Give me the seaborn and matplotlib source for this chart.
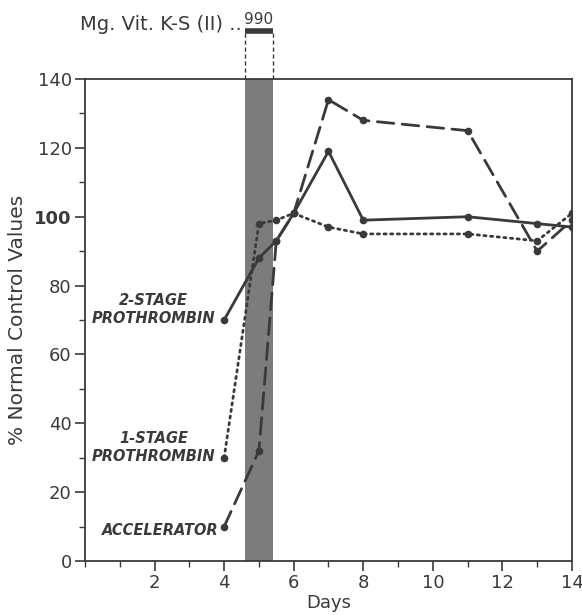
import numpy as np
import pandas as pd
import seaborn as sns
import matplotlib.pyplot as plt
from matplotlib.ticker import MultipleLocator
import matplotlib.transforms as mtransforms

sns.set_style("ticks")
plt.rcParams['font.family'] = ['DejaVu Sans']

ink = '#3a3a3a'

# data
days = [4, 5, 5.5, 6, 7, 8, 11, 13, 14]
two_stage = [70, 88, 93, 101, 119, 99, 100, 98, 97]
one_stage = [30, 98, 99, 101, 97, 95, 95, 93, 101]
accelerator = [10, 32, 93, 101, 134, 128, 125, 90, 99]
series_names = ["2-STAGE\nPROTHROMBIN", "1-STAGE\nPROTHROMBIN", "ACCELERATOR"]
dose_start, dose_end = 4.6, 5.4
dose_label = "Mg. Vit. K-S (II) .."
dose_amount = "990"

rows = []
for name, vals in zip(series_names, [two_stage, one_stage, accelerator]):
    for d, v in zip(days, vals):
        rows.append([name, d, v])
df = pd.DataFrame(rows, columns=["Series", "Days", "Value"])

fig = plt.figure(figsize=(5.82, 6.15), dpi=100)
ax = fig.add_axes([0.1460, 0.0878, 0.8368, 0.7837])

ax.axvspan(dose_start, dose_end, color='#7c7c7c', lw=0, zorder=0)

sns.lineplot(data=df, x="Days", y="Value", style="Series", sort=False,
             dashes={series_names[0]: "", series_names[1]: (0.8, 1.6), series_names[2]: (6, 3)},
             markers={n: 'o' for n in series_names}, markersize=5.5,
             color=ink, linewidth=2, markeredgewidth=0, legend=False, ax=ax,
             dash_capstyle='round', zorder=3)

ax.set_xlim(0, 14)
ax.set_ylim(0, 140)
ax.xaxis.set_major_locator(MultipleLocator(2))
ax.xaxis.set_minor_locator(MultipleLocator(1))
ax.yaxis.set_major_locator(MultipleLocator(20))
ax.yaxis.set_minor_locator(MultipleLocator(10))
ax.set_xticks([2, 4, 6, 8, 10, 12, 14])
ax.tick_params(axis='both', which='major', length=7, width=1.2, color=ink, labelcolor=ink, labelsize=13)
ax.tick_params(axis='both', which='minor', length=4, width=1.0, color=ink)
ax.tick_params(axis='x', pad=2)
ax.tick_params(axis='y', pad=2.5)
for lab in ax.get_yticklabels():
    if lab.get_text() == '100':
        lab.set_fontweight('bold')

for sp in ax.spines.values():
    sp.set_color(ink)
    sp.set_linewidth(1.3)

ax.set_xlabel("Days", fontsize=13, color=ink, labelpad=2)
ax.set_ylabel("% Normal Control Values", fontsize=14.5, color=ink, labelpad=5)

# series labels
lab_kw = dict(fontsize=10.5, fontweight='bold', fontstyle='italic', color=ink,
              ha='right', va='center', multialignment='center')
ax.text(3.75, 73, series_names[0], **lab_kw)
ax.text(3.75, 33, series_names[1], **lab_kw)
ax.text(3.83, 9, series_names[2], **lab_kw)

# dose marker above the plot
trans = mtransforms.blended_transform_factory(ax.transData, ax.transAxes)
ax.plot([dose_start, dose_start], [1.0, 1.1], transform=trans, clip_on=False,
        color=ink, lw=1, ls=(0, (3, 2)))
ax.plot([dose_end, dose_end], [1.0, 1.1], transform=trans, clip_on=False,
        color=ink, lw=1, ls=(0, (3, 2)))
ax.plot([dose_start, dose_end], [1.1, 1.1], transform=trans, clip_on=False,
        color=ink, lw=4, solid_capstyle='butt')
ax.text((dose_start + dose_end) / 2, 1.108, dose_amount, transform=trans,
        ha='center', va='bottom', fontsize=11, color=ink)
ax.text(4.52, 1.113, dose_label, transform=trans, ha='right', va='center',
        fontsize=14, color=ink)

fig.savefig("out.png", dpi=100)
